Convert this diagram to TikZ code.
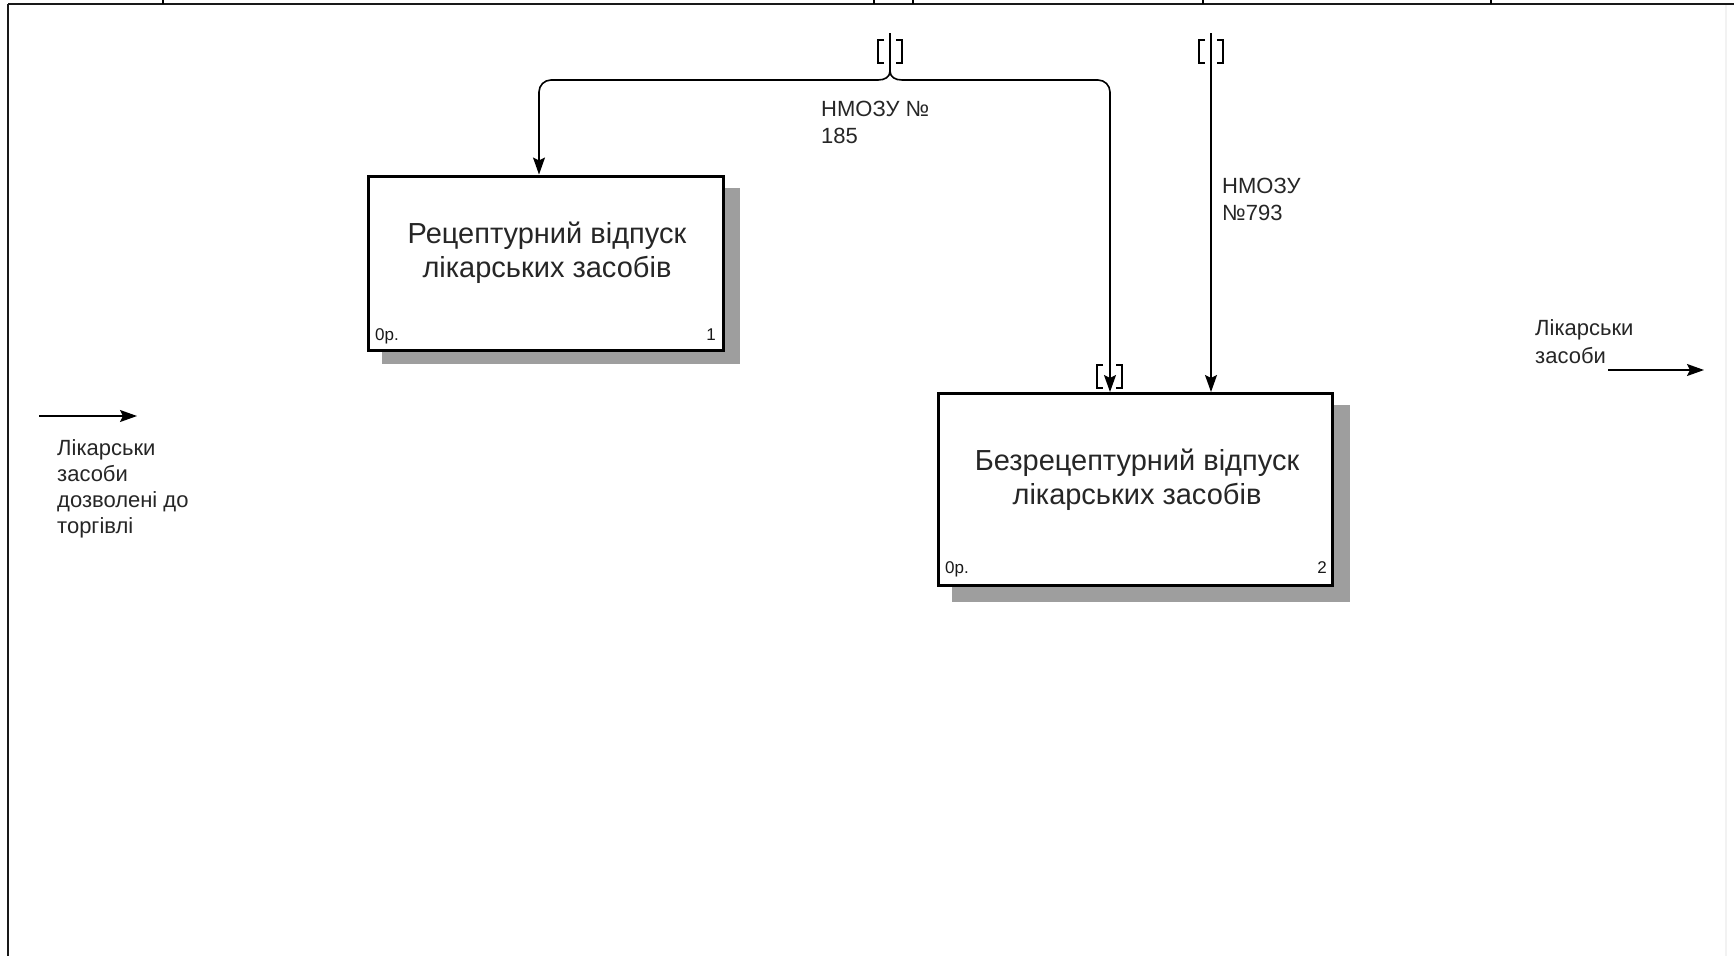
\documentclass[tikz,border=0pt]{standalone}
\usepackage{fontspec}
\setmainfont{Liberation Sans}
\usetikzlibrary{arrows.meta,calc}
\begin{document}
\begin{tikzpicture}[x=1pt,y=-1pt,
  frame/.style={line width=2.2pt,black!90},
  boxshape/.style={draw,line width=3pt,fill=white,rectangle,inner sep=0pt},
  shadowfill/.style={fill=black!38},
  boxtext/.style={font=\fontsize{29}{34}\selectfont,align=center,inner sep=0pt,text=black!85},
  smalltext/.style={font=\fontsize{17}{19}\selectfont,inner sep=0pt,text=black!90},
  lab/.style={font=\fontsize{22}{27}\selectfont,align=left,inner sep=0pt,anchor=north west,text=black!85},
  conn/.style={line width=1.6pt,black},
  arrow/.style={conn,-{Stealth[length=17pt,width=12pt,inset=3pt]}},
  tunnel/.style={line width=1.8pt,black}]
\useasboundingbox (0,0) rectangle (1734,956);
\fill[white] (0,0) rectangle (1734,956);
% frame
\draw[frame] (8,4) -- (1734,4);
\draw[frame] (8,4) -- (8,956);
\draw[black!5,line width=1.5pt] (1726,5) -- (1726,956);
\foreach \tx in {163,874,913,1203,1491} \draw[line width=1.5pt] (\tx,0) -- (\tx,4);
% shadows
\fill[shadowfill] (382,188) rectangle (740,364);
\fill[shadowfill] (952,405) rectangle (1350,602);
% boxes
\node[boxshape,minimum width=355pt,minimum height=174pt] (b1) at (546,263) {};
\node[boxshape,minimum width=394pt,minimum height=192pt] (b2) at (1135.5,489.5) {};
\node[boxtext,anchor=north] (t1) at (547,222) {Рецептурний відпуск\\лікарських засобів};
\node[boxtext,anchor=north] (t2) at (1137,449) {Безрецептурний відпуск\\лікарських засобів};
\node[smalltext,anchor=base west] (n1) at (375,340) {0р.};
\node[smalltext,anchor=base east] (k1) at (716,340) {1};
\node[smalltext,anchor=base west] (n2) at (945,573) {0р.};
\node[smalltext,anchor=base east] (k2) at (1327,573) {2};
% labels
\node[lab] (l185) at (821,101) {НМОЗУ №\\185};
\node[lab] (l793) at (1222,178) {НМОЗУ\\№793};
\node[lab,font=\fontsize{22}{26}\selectfont] (lin) at (57,439) {Лікарськи\\засоби\\дозволені до\\торгівлі};
\node[lab,font=\fontsize{22}{28}\selectfont] (lout) at (1535,319) {Лікарськи\\засоби};
% connector coordinates
\coordinate (t1top) at (890,33);
\coordinate (j1) at (890,71);
\coordinate (x1) at (539,0);
\coordinate (x2) at (1110,0);
\coordinate (t2top) at (1211,33);
\coordinate (x3) at (1211,0);
\coordinate (ins) at (39,416);
\coordinate (ine) at (137,416);
\coordinate (outs) at (1608,370);
\coordinate (oute) at (1704,370);
% connectors
\draw[conn] (t1top) -- (j1);
\draw[arrow] (j1) .. controls (890,77) and (885,80) .. (878,80) [rounded corners=12pt] -- (x1 |- 0,80) -- (b1.north -| x1);
\draw[arrow] (j1) .. controls (890,77) and (895,80) .. (902,80) [rounded corners=12pt] -- (x2 |- 0,80) -- (b2.north -| x2);
\draw[arrow] (t2top) -- (b2.north -| x3);
\draw[arrow] (ins) -- (ine);
\draw[arrow] (outs) -- (oute);
% tunnel brackets
\draw[tunnel] (884,40) -- (878,40) -- (878,63) -- (884,63);
\draw[tunnel] (896,40) -- (902,40) -- (902,63) -- (896,63);
\draw[tunnel] (1205,40) -- (1199,40) -- (1199,63) -- (1205,63);
\draw[tunnel] (1217,40) -- (1223,40) -- (1223,63) -- (1217,63);
\draw[tunnel] (1103,365) -- (1097,365) -- (1097,388) -- (1103,388);
\draw[tunnel] (1116,365) -- (1122,365) -- (1122,388) -- (1116,388);
\end{tikzpicture}
\end{document}
